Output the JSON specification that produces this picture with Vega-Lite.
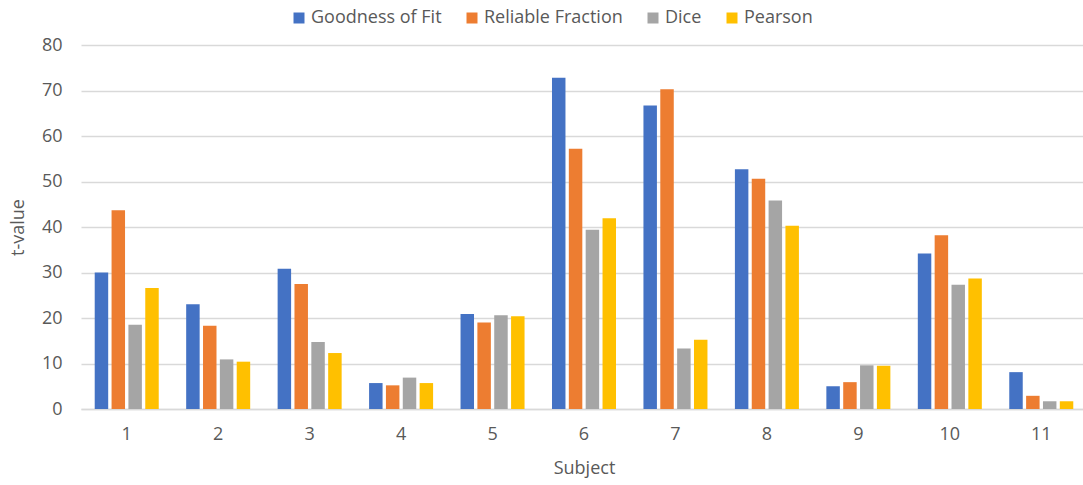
{
  "$schema": "https://vega.github.io/schema/vega-lite/v6.json",
  "autosize": "none",
  "padding": {"left": 81, "top": 45, "right": 0, "bottom": 76},
  "width": 1006,
  "height": 364,
  "background": "white",
  "config": {
    "font": "Open Sans",
    "view": {"stroke": null},
    "axis": {"labelColor": "#595959", "titleColor": "#595959", "labelFontSize": 18, "titleFontSize": 18, "titleFontWeight": "normal"}
  },
  "data": {
    "values": [
      {"subject": "1", "metric": "Goodness of Fit", "t": 30.0},
      {"subject": "1", "metric": "Reliable Fraction", "t": 43.7},
      {"subject": "1", "metric": "Dice", "t": 18.5},
      {"subject": "1", "metric": "Pearson", "t": 26.6},
      {"subject": "2", "metric": "Goodness of Fit", "t": 23.0},
      {"subject": "2", "metric": "Reliable Fraction", "t": 18.3},
      {"subject": "2", "metric": "Dice", "t": 10.9},
      {"subject": "2", "metric": "Pearson", "t": 10.4},
      {"subject": "3", "metric": "Goodness of Fit", "t": 30.8},
      {"subject": "3", "metric": "Reliable Fraction", "t": 27.5},
      {"subject": "3", "metric": "Dice", "t": 14.7},
      {"subject": "3", "metric": "Pearson", "t": 12.3},
      {"subject": "4", "metric": "Goodness of Fit", "t": 5.7},
      {"subject": "4", "metric": "Reliable Fraction", "t": 5.2},
      {"subject": "4", "metric": "Dice", "t": 6.9},
      {"subject": "4", "metric": "Pearson", "t": 5.7},
      {"subject": "5", "metric": "Goodness of Fit", "t": 20.9},
      {"subject": "5", "metric": "Reliable Fraction", "t": 19.0},
      {"subject": "5", "metric": "Dice", "t": 20.6},
      {"subject": "5", "metric": "Pearson", "t": 20.4},
      {"subject": "6", "metric": "Goodness of Fit", "t": 72.8},
      {"subject": "6", "metric": "Reliable Fraction", "t": 57.2},
      {"subject": "6", "metric": "Dice", "t": 39.4},
      {"subject": "6", "metric": "Pearson", "t": 41.9},
      {"subject": "7", "metric": "Goodness of Fit", "t": 66.7},
      {"subject": "7", "metric": "Reliable Fraction", "t": 70.3},
      {"subject": "7", "metric": "Dice", "t": 13.3},
      {"subject": "7", "metric": "Pearson", "t": 15.2},
      {"subject": "8", "metric": "Goodness of Fit", "t": 52.7},
      {"subject": "8", "metric": "Reliable Fraction", "t": 50.6},
      {"subject": "8", "metric": "Dice", "t": 45.8},
      {"subject": "8", "metric": "Pearson", "t": 40.3},
      {"subject": "9", "metric": "Goodness of Fit", "t": 5.0},
      {"subject": "9", "metric": "Reliable Fraction", "t": 5.9},
      {"subject": "9", "metric": "Dice", "t": 9.6},
      {"subject": "9", "metric": "Pearson", "t": 9.5},
      {"subject": "10", "metric": "Goodness of Fit", "t": 34.2},
      {"subject": "10", "metric": "Reliable Fraction", "t": 38.2},
      {"subject": "10", "metric": "Dice", "t": 27.3},
      {"subject": "10", "metric": "Pearson", "t": 28.7},
      {"subject": "11", "metric": "Goodness of Fit", "t": 8.1},
      {"subject": "11", "metric": "Reliable Fraction", "t": 2.9},
      {"subject": "11", "metric": "Dice", "t": 1.7},
      {"subject": "11", "metric": "Pearson", "t": 1.7}
    ]
  },
  "mark": {"type": "bar"},
  "encoding": {
    "x": {
      "field": "subject",
      "type": "ordinal",
      "sort": null,
      "title": "Subject",
      "scale": {"paddingInner": 0.3, "paddingOuter": 0.15},
      "axis": {"labelAngle": 0, "ticks": false, "domain": true, "domainColor": "#d9d9d9", "domainWidth": 1.3, "labelPadding": 16, "titlePadding": 16}
    },
    "xOffset": {
      "field": "metric",
      "type": "nominal",
      "sort": ["Goodness of Fit", "Reliable Fraction", "Dice", "Pearson"],
      "scale": {"paddingInner": 0.2, "paddingOuter": 0}
    },
    "y": {
      "field": "t",
      "type": "quantitative",
      "title": "t-value",
      "scale": {"domain": [0, 80], "nice": false},
      "axis": {"values": [0, 10, 20, 30, 40, 50, 60, 70, 80], "ticks": false, "domain": false, "gridColor": "#d9d9d9", "gridWidth": 1.3, "labelPadding": 19, "titlePadding": 14}
    },
    "color": {
      "field": "metric",
      "type": "nominal",
      "sort": ["Goodness of Fit", "Reliable Fraction", "Dice", "Pearson"],
      "scale": {"range": ["#4472C4", "#ED7D31", "#A5A5A5", "#FFC000"]},
      "legend": {
        "title": null,
        "orient": "none",
        "direction": "horizontal",
        "legendX": 209,
        "legendY": -36,
        "symbolType": "square",
        "symbolSize": 121,
        "symbolStrokeWidth": 0,
        "labelFontSize": 18,
        "labelColor": "#595959",
        "labelOffset": 3,
        "columnPadding": 21
      }
    }
  }
}
